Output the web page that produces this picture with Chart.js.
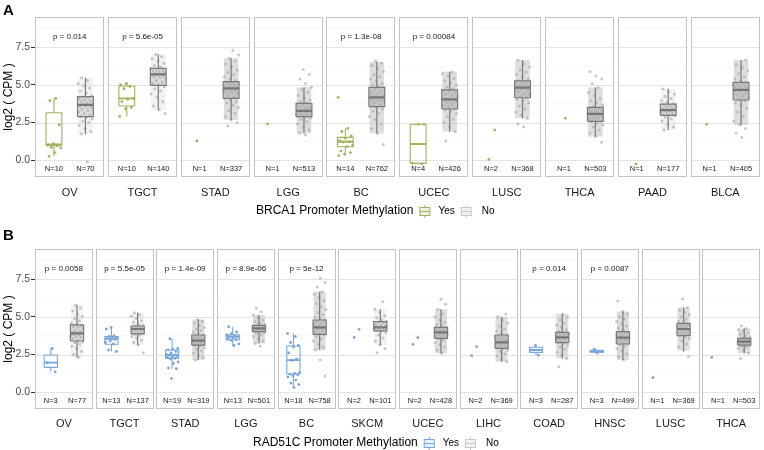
<!DOCTYPE html>
<html><head><meta charset="utf-8">
<script src="https://cdn.jsdelivr.net/npm/chart.js@4/dist/chart.umd.min.js"></script>
<style>
html,body{margin:0;padding:0;background:#fff;}
#wrap{position:relative;width:764px;height:450px;overflow:hidden;}
canvas{position:absolute;left:0;}
</style></head><body>
<div id="wrap"><canvas id="cA" width="764" height="225" style="top:0"></canvas><canvas id="cB" width="764" height="225" style="top:225px"></canvas></div>
<script>
// ---------------- Panel A : BRCA1 ----------------
const tumorsA = ['OV','TGCT','STAD','LGG','BC','UCEC','LUSC','THCA','PAAD','BLCA'];
const nYesA = [10,10,1,1,14,4,2,1,1,1];
const nNoA  = [70,140,337,513,762,426,368,503,177,405];
const pLabA = ['p = 0.014','p = 5.6e-05','','','p = 1.3e-08','p = 0.00084','','','',''];
// box summaries: [lower whisker, Q1, median, Q3, upper whisker]
const boxYesA = [[0.25,0.95,1.05,3.15,4.1],[2.9,3.6,4.11,4.93,5.1],null,null,[0.3,0.89,1.22,1.51,2.1],[-0.25,-0.22,1.07,2.38,2.38],null,null,null,null];
const boxNoA = [[1.73,2.89,3.67,4.22,5.49],[3.33,4.98,5.71,6.11,7.04],[2.67,4.11,4.78,5.22,6.78],[1.78,2.89,3.27,3.78,4.85],[1.78,3.56,4.18,4.84,6.55],[1.89,3.4,4.04,4.67,5.89],[2.78,4.15,4.82,5.27,6.67],[1.56,2.58,3.07,3.51,4.84],[2.0,2.98,3.33,3.73,4.75],[2.33,4.0,4.67,5.18,6.67]];
const ptsYesA = [
 [4.1,3.95,2.35,1.1,1.0,0.95,0.85,0.8,0.5,0.25],
 [5.1,5.0,4.9,4.75,4.1,4.05,3.9,3.5,3.4,2.9],
 [1.27],[2.4],
 [4.18,2.1,1.9,1.6,1.45,1.3,1.22,1.2,1.0,0.9,0.6,0.5,0.4,0.3],
 [2.38,2.38,-0.2,-0.25],[2.0,0.04],[2.78],[-0.27],[2.38]];
const ptsNoA = [
 [-0.11,1.73,1.9,2.1,2.3,2.5,2.6,2.75,2.85,2.9,3.0,3.1,3.2,3.3,3.4,3.5,3.55,3.6,3.65,3.7,3.75,3.8,3.9,3.95,4.0,4.1,4.15,4.2,4.3,4.45,4.6,4.8,4.95,5.1,5.3,5.49],
 [3.1,3.33,3.6,3.9,4.2,4.4,4.6,4.75,4.9,5.0,5.1,5.2,5.3,5.4,5.5,5.55,5.6,5.65,5.7,5.75,5.8,5.85,5.9,5.95,6.0,6.05,6.1,6.2,6.3,6.45,6.6,6.75,6.9,7.04],
 [2.27,2.5,2.67,2.9,3.1,3.3,3.5,3.65,3.8,3.9,4.0,4.1,4.2,4.3,4.4,4.5,4.55,4.6,4.65,4.7,4.75,4.8,4.85,4.9,4.95,5.0,5.05,5.1,5.15,5.2,5.3,5.4,5.55,5.7,5.85,6.0,6.2,6.4,6.6,6.78,7.0,7.29],
 [1.67,1.78,2.0,2.2,2.4,2.55,2.7,2.8,2.85,2.9,2.95,3.0,3.05,3.1,3.15,3.2,3.25,3.3,3.35,3.4,3.45,3.5,3.55,3.6,3.7,3.75,3.8,3.9,4.0,4.15,4.3,4.5,4.7,4.85,5.1,5.4,5.7,6.04],
 [1.04,1.78,2.1,2.4,2.7,2.9,3.1,3.25,3.4,3.5,3.6,3.7,3.8,3.9,3.95,4.0,4.05,4.1,4.15,4.2,4.25,4.3,4.4,4.5,4.6,4.7,4.8,4.9,5.0,5.1,5.25,5.4,5.55,5.7,5.9,6.1,6.3,6.45,6.6],
 [1.29,1.89,2.2,2.5,2.7,2.9,3.1,3.25,3.35,3.45,3.55,3.65,3.75,3.85,3.9,3.95,4.0,4.05,4.1,4.2,4.3,4.4,4.5,4.6,4.65,4.75,4.85,5.0,5.15,5.3,5.45,5.6,5.75,5.89],
 [2.22,2.4,2.78,3.0,3.2,3.4,3.6,3.8,3.95,4.05,4.15,4.25,4.35,4.45,4.55,4.65,4.7,4.75,4.8,4.85,4.9,4.95,5.0,5.05,5.1,5.15,5.2,5.3,5.4,5.55,5.7,5.85,6.0,6.2,6.4,6.67],
 [1.18,1.56,1.8,2.0,2.2,2.35,2.45,2.55,2.6,2.7,2.75,2.8,2.85,2.9,2.95,3.0,3.05,3.1,3.15,3.2,3.25,3.3,3.35,3.4,3.45,3.55,3.65,3.8,3.95,4.1,4.3,4.5,4.84,5.1,5.4,5.6,5.89],
 [2.0,2.2,2.4,2.6,2.75,2.85,2.95,3.0,3.05,3.1,3.15,3.2,3.25,3.3,3.35,3.4,3.45,3.5,3.55,3.6,3.65,3.7,3.75,3.85,3.95,4.1,4.25,4.4,4.55,4.75],
 [1.51,1.8,2.1,2.33,2.6,2.9,3.2,3.45,3.65,3.8,3.95,4.05,4.15,4.25,4.35,4.45,4.55,4.6,4.65,4.7,4.75,4.8,4.85,4.9,4.95,5.0,5.05,5.1,5.15,5.25,5.4,5.55,5.75,5.95,6.15,6.35,6.67]];

// ---------------- Panel B : RAD51C ----------------
const tumorsB = ['OV','TGCT','STAD','LGG','BC','SKCM','UCEC','LIHC','COAD','HNSC','LUSC','THCA'];
const nYesB = [3,13,19,13,18,2,2,2,3,3,1,1];
const nNoB  = [77,137,319,501,758,101,428,369,287,499,369,503];
const pLabB = ['p = 0.0058','p = 5.5e-05','p = 1.4e-09','p = 8.9e-06','p = 5e-12','','','','p = 0.014','p = 0.0087','',''];
const boxYesB = [[1.35,1.64,1.96,2.47,2.9],[2.7,3.18,3.55,3.69,4.3],[1.55,2.24,2.47,2.8,3.55],[3.1,3.47,3.69,3.82,4.35],[0.3,1.2,2.13,3.07,3.9],null,null,null,[2.45,2.64,2.8,2.98,3.1],[2.6,2.65,2.7,2.78,2.85],null,null];
const boxNoB = [[2.3,3.4,3.91,4.47,5.8],[3.13,3.87,4.2,4.4,5.29],[2.13,3.13,3.42,3.8,4.84],[3.24,4.02,4.24,4.44,5.13],[2.8,3.84,4.31,4.8,6.69],[3.13,4.07,4.31,4.69,5.51],[2.58,3.58,3.98,4.31,5.51],[2.02,2.91,3.31,3.8,5.02],[2.24,3.29,3.64,3.98,5.2],[2.13,3.2,3.62,4.02,5.36],[2.76,3.76,4.2,4.58,5.64],[2.58,3.13,3.36,3.58,4.24]];
const ptsYesB = [
 [2.9,1.95,1.35],
 [4.3,4.2,3.75,3.7,3.65,3.6,3.55,3.5,3.4,3.3,3.2,2.8,2.7],
 [3.55,2.9,2.85,2.8,2.7,2.6,2.5,2.45,2.45,2.4,2.35,2.3,2.25,2.2,2.0,1.9,1.6,1.55,0.9],
 [4.35,4.0,3.9,3.8,3.75,3.7,3.68,3.6,3.55,3.5,3.45,3.2,3.1],
 [3.9,3.7,3.3,3.1,3.0,2.6,2.2,2.1,1.3,1.25,1.2,1.15,1.1,1.0,0.8,0.6,0.5,0.3],
 [4.18,3.64],[3.62,3.18],[3.02,2.42],[3.1,2.8,2.45],[2.85,2.7,2.6],[0.96],[2.31]];
const ptsNoB = [
 [2.3,2.5,2.7,2.9,3.05,3.2,3.3,3.35,3.45,3.55,3.65,3.7,3.75,3.8,3.85,3.9,3.95,4.0,4.05,4.1,4.2,4.3,4.35,4.4,4.5,4.6,4.75,4.9,5.05,5.2,5.4,5.6,5.8],
 [2.62,3.13,3.3,3.45,3.6,3.7,3.8,3.85,3.9,3.95,4.0,4.05,4.1,4.15,4.2,4.22,4.25,4.3,4.33,4.36,4.4,4.45,4.55,4.65,4.75,4.9,5.05,5.15,5.29],
 [2.13,2.3,2.45,2.6,2.75,2.85,2.95,3.05,3.1,3.15,3.2,3.25,3.3,3.35,3.4,3.45,3.5,3.55,3.6,3.65,3.7,3.75,3.8,3.9,4.0,4.1,4.2,4.3,4.45,4.6,4.72,4.84],
 [3.07,3.24,3.4,3.55,3.7,3.8,3.9,3.95,4.0,4.05,4.1,4.15,4.2,4.22,4.25,4.28,4.3,4.35,4.4,4.45,4.5,4.6,4.7,4.8,4.95,5.13,5.35,5.58],
 [1.07,2.13,2.8,3.0,3.2,3.4,3.55,3.7,3.8,3.9,4.0,4.1,4.15,4.2,4.25,4.3,4.35,4.4,4.5,4.6,4.7,4.8,4.9,5.0,5.15,5.3,5.5,5.7,5.9,6.1,6.3,6.5,6.69,7.0,7.3,7.58],
 [2.62,2.9,3.13,3.4,3.6,3.8,3.95,4.05,4.1,4.15,4.2,4.25,4.3,4.35,4.4,4.45,4.5,4.6,4.65,4.7,4.8,4.95,5.1,5.3,5.51,6.02],
 [2.58,2.8,3.0,3.15,3.3,3.45,3.55,3.6,3.7,3.75,3.8,3.85,3.9,3.95,4.0,4.05,4.1,4.15,4.2,4.25,4.3,4.4,4.5,4.65,4.8,5.0,5.2,5.51,5.85,6.18],
 [2.02,2.2,2.4,2.55,2.7,2.8,2.9,2.95,3.0,3.1,3.15,3.2,3.25,3.3,3.35,3.4,3.45,3.5,3.6,3.65,3.7,3.8,3.9,4.05,4.2,4.4,4.6,4.8,5.02,5.2],
 [1.69,2.24,2.45,2.65,2.85,3.0,3.1,3.2,3.3,3.35,3.4,3.5,3.55,3.6,3.65,3.7,3.75,3.8,3.85,3.9,3.95,4.05,4.15,4.3,4.45,4.6,4.8,5.0,5.2],
 [2.13,2.35,2.55,2.75,2.9,3.05,3.15,3.2,3.3,3.4,3.45,3.5,3.55,3.6,3.65,3.7,3.75,3.8,3.9,3.95,4.0,4.1,4.25,4.4,4.55,4.7,4.85,5.0,5.2,5.36,6.07],
 [2.36,2.76,3.0,3.2,3.4,3.55,3.65,3.75,3.85,3.9,3.95,4.0,4.05,4.1,4.15,4.2,4.25,4.3,4.35,4.4,4.45,4.5,4.6,4.7,4.85,5.0,5.15,5.3,5.45,5.64,6.2],
 [2.24,2.58,2.75,2.9,3.0,3.05,3.1,3.15,3.2,3.25,3.3,3.33,3.36,3.4,3.43,3.46,3.5,3.55,3.6,3.65,3.75,3.85,3.95,4.05,4.15,4.24,4.4]];

const yTicks = [0, 2.5, 5, 7.5];
const yMinor = [1.25, 3.75, 6.25, 8.75];

// ---------------- drawing helpers ----------------
const FONT = "'Liberation Sans', Arial, Helvetica, sans-serif";
const GAP = 0.05, POS_YES = 0.273, POS_NO = 0.727, HALF_BOX = 0.114, JIT = 0.11;
const xStart = i => i * (1 + GAP);
const jit = k => (((k + 1) * 0.6180339887) % 1 - 0.5) * 2 * JIT;

function boxOutline(boxes, pos) {
  const d = [];
  boxes.forEach((b, i) => {
    if (!b) return;
    const c = xStart(i) + pos, l = c - HALF_BOX, r = c + HALF_BOX;
    const [lo, q1, , q3, hi] = b;
    d.push({x:l,y:q1},{x:r,y:q1},{x:r,y:q3},{x:l,y:q3},{x:l,y:q1},{x:l,y:null});
    d.push({x:c,y:q3},{x:c,y:hi},{x:c,y:null});
    d.push({x:c,y:q1},{x:c,y:lo},{x:c,y:null});
  });
  return d;
}
function boxMedian(boxes, pos) {
  const d = [];
  boxes.forEach((b, i) => {
    if (!b) return;
    const c = xStart(i) + pos;
    d.push({x:c-HALF_BOX,y:b[2]},{x:c+HALF_BOX,y:b[2]},{x:c,y:null});
  });
  return d;
}
function points(lists, pos, seed) {
  const d = [];
  lists.forEach((arr, i) => arr.forEach((v, k) => d.push({x: xStart(i) + pos + jit(k + i * seed), y: v})));
  return d;
}

const panelPlugin = {
  id: 'panels',
  beforeDatasetsDraw(chart) {
    const o = chart.options.plugins.panels, ctx = chart.ctx;
    const xs = chart.scales.x, ys = chart.scales.y, ca = chart.chartArea;
    ctx.save();
    o.cats.forEach((c, i) => {
      const x0 = xs.getPixelForValue(xStart(i)), x1 = xs.getPixelForValue(xStart(i) + 1);
      ctx.fillStyle = '#fff'; ctx.fillRect(x0, ca.top, x1 - x0, ca.bottom - ca.top);
      ctx.strokeStyle = '#f1f1f1'; ctx.lineWidth = 0.6;
      yMinor.forEach(v => { const y = ys.getPixelForValue(v); ctx.beginPath(); ctx.moveTo(x0, y); ctx.lineTo(x1, y); ctx.stroke(); });
      ctx.strokeStyle = '#e4e4e4'; ctx.lineWidth = 1;
      yTicks.forEach(v => { const y = Math.round(ys.getPixelForValue(v)) + 0.5; ctx.beginPath(); ctx.moveTo(x0, y); ctx.lineTo(x1, y); ctx.stroke(); });
      const b = o.boxNo[i];
      if (b) {
        const c = xStart(i) + POS_NO;
        const l = xs.getPixelForValue(c - HALF_BOX), r = xs.getPixelForValue(c + HALF_BOX);
        const l2 = xs.getPixelForValue(c - HALF_BOX * 0.92), r2 = xs.getPixelForValue(c + HALF_BOX * 0.92);
        const dense = o.nNo[i] >= 250;
        // density of the jittered cloud along the whisker range
        const wt = ys.getPixelForValue(b[4]), wb = ys.getPixelForValue(b[0]);
        ctx.fillStyle = dense ? 'rgba(195,195,195,0.55)' : 'rgba(205,205,205,0.25)';
        ctx.fillRect(l2, wt, r2 - l2, wb - wt);
        const t = ys.getPixelForValue(b[3]), bt = ys.getPixelForValue(b[1]);
        ctx.fillStyle = dense ? 'rgba(185,185,185,0.7)' : 'rgba(195,195,195,0.5)';
        ctx.fillRect(l, t, r - l, bt - t);
      }
    });
    ctx.restore();
  },
  afterDatasetsDraw(chart) {
    const o = chart.options.plugins.panels, ctx = chart.ctx;
    const xs = chart.scales.x, ys = chart.scales.y, ca = chart.chartArea;
    ctx.save();
    o.cats.forEach((c, i) => {
      const x0 = xs.getPixelForValue(xStart(i)), x1 = xs.getPixelForValue(xStart(i) + 1);
      ctx.strokeStyle = '#c4c4c4'; ctx.lineWidth = 1;
      ctx.strokeRect(Math.round(x0) + 0.5, Math.round(ca.top) + 0.5, Math.round(x1 - x0) - 1, Math.round(ca.bottom - ca.top) - 1);
      ctx.fillStyle = '#1a1a1a'; ctx.textAlign = 'center'; ctx.textBaseline = 'middle';
      if (o.pLab[i]) { ctx.font = '8px ' + FONT; ctx.fillText(o.pLab[i], (x0 + x1) / 2, ys.getPixelForValue(8.2)); }
      ctx.font = '7.5px ' + FONT;
      const yN = ys.getPixelForValue(-0.6);
      ctx.fillText('N=' + o.nYes[i], xs.getPixelForValue(xStart(i) + POS_YES), yN);
      ctx.fillText('N=' + o.nNo[i], xs.getPixelForValue(xStart(i) + POS_NO), yN);
      ctx.font = '11px ' + FONT;
      ctx.fillText(c, (x0 + x1) / 2, ca.bottom + o.labelOff);
    });
    // y-axis title
    ctx.save();
    ctx.translate(9, (ca.top + ca.bottom) / 2); ctx.rotate(-Math.PI / 2);
    ctx.font = '12px ' + FONT; ctx.fillStyle = '#000'; ctx.textAlign = 'center'; ctx.textBaseline = 'middle';
    ctx.fillText('log2 ( CPM )', 0, 0);
    ctx.restore();
    // panel letter
    ctx.font = 'bold 15px ' + FONT; ctx.fillStyle = '#000'; ctx.textAlign = 'left'; ctx.textBaseline = 'top';
    ctx.fillText(o.letter, 3, o.letterY);
    // legend
    const ly = o.legendY;
    ctx.font = '12px ' + FONT; ctx.textBaseline = 'middle'; ctx.fillStyle = '#000';
    ctx.fillText(o.legendTitle, o.legendX, ly);
    let kx = o.legendX + ctx.measureText(o.legendTitle).width + 6;
    const drawKey = (x, col, fill) => {
      ctx.fillStyle = fill; ctx.fillRect(x, ly - 4, 10, 8);
      ctx.strokeStyle = col; ctx.lineWidth = 1;
      ctx.strokeRect(x + 0.5, ly - 3.5, 10, 8);
      ctx.beginPath(); ctx.moveTo(x + 0.5, ly + 0.5); ctx.lineTo(x + 10.5, ly + 0.5);
      ctx.moveTo(x + 5.5, ly - 6); ctx.lineTo(x + 5.5, ly - 3.5); ctx.moveTo(x + 5.5, ly + 4.5); ctx.lineTo(x + 5.5, ly + 7);
      ctx.stroke();
    };
    drawKey(kx, o.yesCol, o.yesFill);
    ctx.font = '10px ' + FONT; ctx.fillStyle = '#000';
    ctx.fillText('Yes', kx + 19, ly);
    kx = kx + 19 + ctx.measureText('Yes').width + 6;
    drawKey(kx, '#c8c8c8', 'rgba(220,220,220,0.4)');
    ctx.font = '10px ' + FONT; ctx.fillStyle = '#000';
    ctx.fillText('No', kx + 21, ly);
    ctx.restore();
  }
};

function makeChart(id, cfg) {
  const n = cfg.cats.length;
  new Chart(document.getElementById(id), {
    type: 'scatter',
    data: { datasets: [
      { data: boxMedian(cfg.boxNo, POS_NO), showLine: true, pointRadius: 0, borderColor: '#777', borderWidth: 2.2, order: 0 },
      { data: boxOutline(cfg.boxNo, POS_NO), showLine: true, pointRadius: 0, borderColor: '#7a7a7a', borderWidth: 1.2, order: 1 },
      { data: boxMedian(cfg.boxYes, POS_YES), showLine: true, pointRadius: 0, borderColor: cfg.yesCol, borderWidth: 1.8, order: 2 },
      { data: boxOutline(cfg.boxYes, POS_YES), showLine: true, pointRadius: 0, borderColor: cfg.yesCol, borderWidth: 1.1, order: 3 },
      { data: points(cfg.ptsYes, POS_YES, 3), pointRadius: 1.4, pointBorderWidth: 0, pointBackgroundColor: cfg.yesCol, order: 4 },
      { data: points(cfg.ptsNo, POS_NO, 7), pointRadius: 1.5, pointBorderWidth: 0, pointBackgroundColor: 'rgba(170,170,170,0.65)', order: 5 }
    ]},
    options: {
      responsive: false, animation: false, devicePixelRatio: 1,
      layout: { padding: { top: cfg.padTop, bottom: cfg.padBottom, left: 0, right: 1 } },
      plugins: { legend: { display: false }, tooltip: { enabled: false },
        panels: { cats: cfg.cats, boxNo: cfg.boxNo, pLab: cfg.pLab, nYes: cfg.nYes, nNo: cfg.nNo,
          labelOff: cfg.labelOff, letter: cfg.letter, letterY: cfg.letterY, legendTitle: cfg.legendTitle,
          legendX: cfg.legendX, legendY: cfg.legendY, yesCol: cfg.yesCol, yesFill: cfg.yesFill } },
      scales: {
        x: { type: 'linear', display: false, min: 0, max: n + (n - 1) * GAP },
        y: { min: -1.13, max: 9.53,
          afterFit(s) { s.width = 35; },
          afterBuildTicks(s) { s.ticks = yTicks.map(v => ({ value: v })); },
          ticks: { callback: v => Number(v).toFixed(1), font: { family: FONT, size: 10.5 }, color: '#4d4d4d', padding: 1 },
          grid: { drawOnChartArea: false, drawTicks: true, tickLength: 4, tickColor: '#333', tickWidth: 1 },
          border: { display: false } }
      }
    },
    plugins: [panelPlugin]
  });
}

makeChart('cA', { cats: tumorsA, boxNo: boxNoA, boxYes: boxYesA, ptsYes: ptsYesA, ptsNo: ptsNoA, pLab: pLabA,
  nYes: nYesA, nNo: nNoA, padTop: 17, padBottom: 48, labelOff: 16, letter: 'A', letterY: 3,
  legendTitle: 'BRCA1 Promoter Methylation', legendX: 256, legendY: 211, yesCol: '#a3b25f', yesFill: 'rgba(163,178,95,0.18)' });
makeChart('cB', { cats: tumorsB, boxNo: boxNoB, boxYes: boxYesB, ptsYes: ptsYesB, ptsNo: ptsNoB, pLab: pLabB,
  nYes: nYesB, nNo: nNoB, padTop: 24, padBottom: 41, labelOff: 15, letter: 'B', letterY: 3,
  legendTitle: 'RAD51C Promoter Methylation', legendX: 253, legendY: 218, yesCol: '#79a6dc', yesFill: 'rgba(121,166,220,0.18)' });
</script>
</body></html>
